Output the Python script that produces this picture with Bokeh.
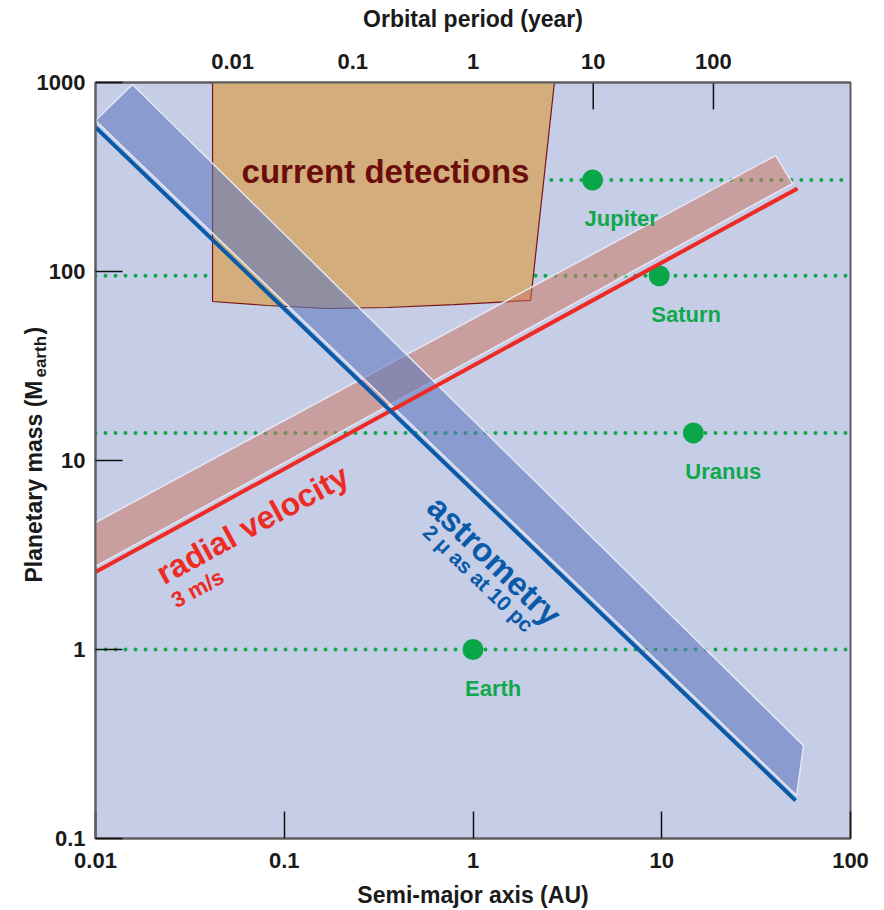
import math
from bokeh.plotting import figure
from bokeh.models import Range1d, LogScale, LogAxis, FixedTicker, Label
from bokeh.embed import file_html
from bokeh.resources import INLINE
from bokeh.core.properties import value

# ---------------- data ----------------
au_ticks = [0.01, 0.1, 1, 10, 100]
au_labels = ["0.01", "0.1", "1", "10", "100"]
mass_ticks = [0.1, 1, 10, 100, 1000]
mass_labels = ["0.1", "1", "10", "100", "1000"]
period_ticks = [0.01, 0.1, 1, 10, 100]
period_labels = ["0.01", "0.1", "1", "10", "100"]
period_decades_per_au_decade = 1.57   # as drawn on the top axis

planets = ["Jupiter", "Saturn", "Uranus", "Earth"]
planet_au = [4.3, 9.7, 14.7, 1.0]
planet_mass = [305, 95, 14, 1]
level_start_au = [2.6, 0.01, 0.01, 0.01]   # where each dotted mass level starts
level_end_au = [100, 100, 100, 100]

# "current detections" region (AU, Earth masses)
det_au = [0.0417, 2.70, 2.02, 0.79, 0.352, 0.169, 0.0815, 0.0417]
det_mass = [1000, 1000, 70.3, 66.8, 64.5, 63.7, 66.1, 69.4]

# radial velocity (3 m/s) band and limit line
rv_band_au = [0.01, 0.01, 40.1, 49.3]
rv_band_mass = [2.75, 4.70, 411, 292]
rv_line_au = [0.01, 52.4]
rv_line_mass = [2.57, 275]

# astrometry (2 micro-arcsec at 10 pc) band and limit line
ast_band_au = [0.01, 0.0157, 56.4, 51.8]
ast_band_mass = [629, 976, 0.31, 0.169]
ast_line_au = [0.01, 51.2]
ast_line_mass = [580, 0.159]

FONT = "Liberation Sans"
BG = "#c6cde7"
GREEN = "#0fa84b"
INK = "#1a1a1a"

# frame geometry (pixels)
FL, FT, FW, FH = 95, 82, 755, 756

def au_at(px):
    return 10 ** (math.log10(au_ticks[0]) + (px - FL) / (FW / 4))

def mass_at(py):
    return 10 ** (math.log10(mass_ticks[-1]) - (py - FT) / (FH / 4))

p = figure(x_axis_type="log", y_axis_type="log",
           x_range=Range1d(au_ticks[0], au_ticks[-1]),
           y_range=Range1d(mass_ticks[0], mass_ticks[-1]),
           frame_width=FW, frame_height=FH,
           min_border_left=FL, min_border_right=884 - FL - FW,
           min_border_top=FT, min_border_bottom=910 - FT - FH,
           output_backend="svg", toolbar_location=None,
           background_fill_color=BG, border_fill_color="white",
           outline_line_color="#5f5f61", outline_line_width=2)
p.grid.visible = False

def style_axis(ax, ticks, labels):
    ax.ticker = FixedTicker(ticks=ticks)
    ax.major_label_overrides = dict(zip(ticks, labels))
    ax.minor_tick_line_color = None
    ax.major_tick_in = 27
    ax.major_tick_out = 0
    ax.major_tick_line_color = "#111111"
    ax.major_tick_line_width = 1.5
    ax.axis_line_color = "#5f5f61"
    ax.axis_line_width = 2
    ax.major_label_text_font = FONT
    ax.major_label_text_font_style = "bold"
    ax.major_label_text_font_size = "22px"
    ax.major_label_text_color = INK
    ax.axis_label_text_font = FONT
    ax.axis_label_text_font_style = "bold"
    ax.axis_label_text_font_size = "23px"
    ax.axis_label_text_color = INK

xax = p.xaxis[0]
style_axis(xax, au_ticks, au_labels)
xax.axis_label = "Semi-major axis (AU)"
xax.major_label_standoff = 14
xax.axis_label_standoff = 11

yax = p.yaxis[0]
style_axis(yax, mass_ticks, mass_labels)
yax.major_label_standoff = 10

k = period_decades_per_au_decade
p.extra_x_ranges = {"period": Range1d(10 ** (math.log10(au_ticks[0]) * k),
                                      10 ** (math.log10(au_ticks[-1]) * k))}
p.extra_x_scales = {"period": LogScale()}
top = LogAxis(x_range_name="period")
style_axis(top, period_ticks, period_labels)
top.major_tick_in = 0          # ticks drawn below the detections box instead
top.axis_label = "Orbital period (year)"
top.major_label_standoff = 14
top.axis_label_standoff = 19
p.add_layout(top, "above")

# top-axis ticks (lie underneath the detections box)
tick_top = mass_ticks[-1]
tick_bot = 10 ** (math.log10(mass_ticks[-1]) - 27 / (FH / 4))
p.segment(x0=period_ticks, x1=period_ticks, y0=[tick_top] * len(period_ticks),
          y1=[tick_bot] * len(period_ticks), x_range_name="period",
          line_color="#111111", line_width=1.5)

# planet mass levels (dotted)
p.segment(x0=level_start_au, x1=level_end_au, y0=planet_mass, y1=planet_mass,
          line_color=GREEN, line_width=4, line_dash="0 10", line_cap="round")
# planets
p.scatter(planet_au, planet_mass, size=21, fill_color="#0aa64a", line_color=None)

# current detections
p.patch(det_au, det_mass, fill_color="#d3ad7b", line_color="#7a1414", line_width=1.2)

# bands
p.patch(rv_band_au, rv_band_mass, fill_color="#cc7963", fill_alpha=0.55,
        line_color="#e4e7f5", line_width=1.5)
p.patch(ast_band_au, ast_band_mass, fill_color="#5f78bd", fill_alpha=0.58,
        line_color="#e4e7f5", line_width=1.5)

# limit lines
p.line(rv_line_au, rv_line_mass, line_color="#ee2a24", line_width=4)
p.line(ast_line_au, ast_line_mass, line_color="#0b5aa8", line_width=4)

# planet names
p.text(planet_au, planet_mass, text=planets, x_offset=-8, y_offset=39,
       text_font=value(FONT), text_font_style="bold", text_font_size="22px",
       text_color=GREEN, text_align="left", text_baseline="alphabetic")

# texts
p.text([au_at(385)], [mass_at(170.5)], text=["current detections"], text_font=value(FONT),
       text_font_style="bold", text_font_size="33px", text_color="#6b0d0d",
       text_align="center", text_baseline="alphabetic")
rv_ang = math.radians(28.6)
p.text([au_at(252)], [mass_at(524)], text=["radial velocity"], angle=rv_ang,
       text_font=value(FONT), text_font_style="bold", text_font_size="32px",
       text_color="#ee2a24", text_align="center", text_baseline="alphabetic")
p.text([au_at(197)], [mass_at(588)], text=["3 m/s"], angle=rv_ang, text_font=value(FONT),
       text_font_style="bold", text_font_size="22px", text_color="#ee2a24",
       text_align="center", text_baseline="alphabetic")
as_ang = -math.radians(43.9)
p.text([au_at(494)], [mass_at(560)], text=["astrometry"], angle=as_ang,
       text_font=value(FONT), text_font_style="bold", text_font_size="33px",
       text_color="#0b5aa8", text_align="center", text_baseline="alphabetic")
p.text([au_at(478)], [mass_at(578)], text=["2 \u03bc as at 10 pc"], angle=as_ang,
       text_font=value(FONT), text_font_style="bold", text_font_size="21px",
       text_color="#0b5aa8", text_align="center", text_baseline="alphabetic")

# y-axis title with subscript, placed in side panels so it is not clipped
# main part 23px ("Planetary mass (M" = 8.78 em), then a 2 em gap for the subscript
ytitle = Label(x=au_at(33), y=mass_at(582), text="Planetary mass (M\u2003\u2003)",
               angle=math.pi / 2, text_font=FONT, text_font_style="bold",
               text_font_size="23px", text_color=INK,
               text_align="left", text_baseline="alphabetic")
ysub = Label(x=au_at(40), y=mass_at(582 - 8.781 * 23 - 3), text="earth",
             angle=math.pi / 2, text_font=FONT, text_font_style="bold",
             text_font_size="17px", text_color=INK,
             text_align="left", text_baseline="alphabetic")
p.add_layout(ytitle, "right")
p.add_layout(ysub, "left")

open("out.html", "w").write(file_html(p, INLINE))
